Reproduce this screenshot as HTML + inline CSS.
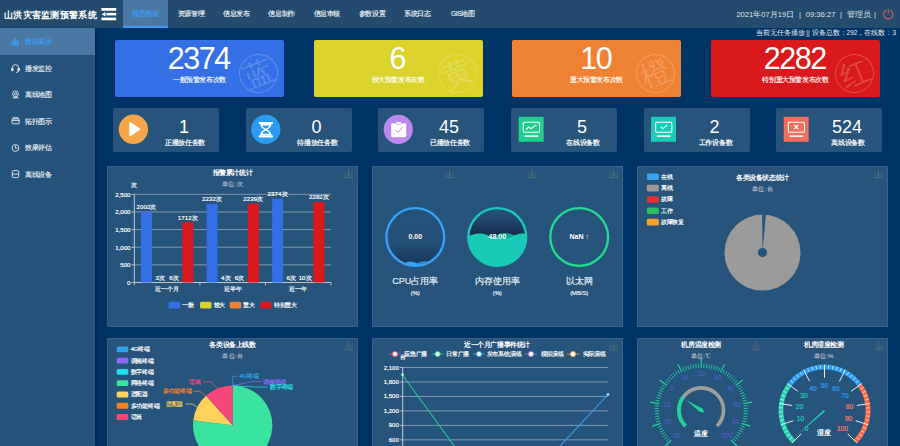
<!DOCTYPE html>
<html><head><meta charset="utf-8">
<style>
*{margin:0;padding:0;box-sizing:border-box}
html,body{width:900px;height:446px;overflow:hidden;background:#003465;font-family:"Liberation Sans",sans-serif;color:#fff}
.a{position:absolute;white-space:nowrap}
#hdr{position:absolute;left:0;top:0;width:900px;height:28px;background:#234b6d}
#side{position:absolute;left:0;top:28px;width:95px;height:418px;background:#265379;box-shadow:1px 0 2px rgba(0,10,30,.45)}
.tab{position:absolute;top:0;height:28px;width:45.3px;text-align:center;line-height:28px;font-size:6.6px;letter-spacing:-0.35px;color:#e8eef4;-webkit-text-stroke:0.15px currentColor}
.tab.on{background:#4b78a3;color:#3d9cf5;border-bottom:2px solid #3d9cf5;line-height:28px}
.mi{position:absolute;left:0;width:95px;height:27px}
.mi.on{background:#4b78a3}
.mi span{position:absolute;left:25px;top:0;line-height:27px;font-size:6.7px;letter-spacing:-0.3px;color:#e8eef4;-webkit-text-stroke:0.15px currentColor}
.mi.on span{color:#3d9cf5}
.card{position:absolute;top:40px;width:169px;height:57px;border-radius:2px}
.card .n{position:absolute;left:0;width:100%;top:1px;text-align:center;font-size:30.5px;line-height:34px;letter-spacing:-1.4px;text-indent:-1.4px}
.card .l{position:absolute;left:0;width:100%;top:36px;text-align:center;font-size:6.6px;letter-spacing:-0.4px;line-height:8px;-webkit-text-stroke:0.12px #fff}
.card .c{position:absolute;left:124px;top:13.5px;width:39px;height:39px;border-radius:50%;border:1px solid rgba(255,255,255,.22);color:rgba(255,255,255,.2);font-size:29px;font-weight:300;line-height:37px;text-align:center;transform:rotate(-22deg)}
.sc{position:absolute;top:108px;width:106px;height:44px;border-radius:2px;background:#27547b}
.sc .n{position:absolute;left:52px;width:38px;top:9px;text-align:center;font-size:18px;line-height:20px}
.sc .l{position:absolute;left:41px;width:62px;top:30.5px;text-align:center;font-size:6.6px;letter-spacing:-0.3px;line-height:8px;-webkit-text-stroke:0.2px #fff}
.pn{position:absolute;background:#27547b;border:1px solid rgba(255,255,255,.08)}
</style></head><body>
<div id="hdr">
  <div class="a" style="left:4px;top:7.6px;font-size:9.4px;font-weight:bold;line-height:14px;letter-spacing:0.3px">山洪灾害监测预警系统</div>
  <svg class="a" style="left:96px;top:3px" width="26" height="22" viewBox="96 3 26 22">
    <rect x="101.4" y="8" width="14.8" height="2.8" fill="#fff"/>
    <rect x="106.4" y="12.9" width="9.8" height="2.5" fill="#fff"/>
    <polygon points="101.6,14.15 105.5,11.9 105.5,16.4" fill="#fff"/>
    <rect x="101.4" y="17.6" width="14.8" height="2.7" fill="#fff"/>
  </svg>
  <div class="tab on" style="left:123px">视图数据</div>
  <div class="tab" style="left:168.3px">资源管理</div>
  <div class="tab" style="left:213.6px">信息发布</div>
  <div class="tab" style="left:258.9px">信息制作</div>
  <div class="tab" style="left:304.2px">信息审核</div>
  <div class="tab" style="left:349.5px">参数设置</div>
  <div class="tab" style="left:394.8px">系统日志</div>
  <div class="tab" style="left:440.1px">GIS地图</div>
  <div class="a" style="left:736.4px;top:9px;font-size:7.6px;line-height:12px;color:#dfe5ea">2021年07月19日</div><div class="a" style="left:799px;top:9px;font-size:7.6px;line-height:12px;color:#dfe5ea">|</div><div class="a" style="left:805.8px;top:9px;font-size:7.6px;line-height:12px;color:#dfe5ea">09:36:27</div><div class="a" style="left:840px;top:9px;font-size:7.6px;line-height:12px;color:#dfe5ea">|</div><div class="a" style="left:846.5px;top:9px;font-size:7.6px;line-height:12px;color:#dfe5ea">管理员</div><div class="a" style="left:874px;top:9px;font-size:7.6px;line-height:12px;color:#dfe5ea">|</div>
  <svg class="a" style="left:880px;top:6px" width="18" height="18" viewBox="880 6 18 18">
    <path d="M886.7,10.0 A4.7,4.7 0 1 0 889.9,10.0" fill="none" stroke="#c95a6c" stroke-width="1.2"/>
    <line x1="888.3" y1="9.2" x2="888.3" y2="13.6" stroke="#c95a6c" stroke-width="1.2"/>
  </svg>
</div>
<div class="a" style="right:4px;top:29px;font-size:6.5px;line-height:8px;color:#e8eef4">当前无任务播放 || 设备总数：292，在线数：3</div>

<div id="side">
    <div class="mi on" style="top:0"><span>数据展示</span></div>
  <div class="mi" style="top:26.5px"><span>播发监控</span></div>
  <div class="mi" style="top:53px"><span>离线地图</span></div>
  <div class="mi" style="top:79.5px"><span>拓扑图示</span></div>
  <div class="mi" style="top:106px"><span>效果评估</span></div>
  <div class="mi" style="top:132.5px"><span>离线设备</span></div>
<svg class="a" style="left:0;top:0" width="95" height="200" viewBox="0 28 95 200">
  <g fill="#3d9cf5"><rect x="11.8" y="41" width="1.6" height="4.3"/><rect x="14.2" y="38.3" width="1.7" height="7"/><rect x="16.6" y="39.8" width="1.7" height="5.5"/><rect x="11.5" y="45" width="7.2" height="0.6"/></g>
  <g fill="none" stroke="#e8eef4" stroke-width="0.9">
    <path d="M12.3,69.5 v-1.6 a3.2,3.2 0 0 1 6.4,0 v1.6"/>
    <rect x="11.6" y="68.2" width="1.5" height="2.6" rx="0.5" fill="#e8eef4"/>
    <rect x="17.9" y="68.2" width="1.5" height="2.6" rx="0.5" fill="#e8eef4"/>
    <path d="M18.6,70.8 q0,1.6 -2.6,1.6"/>
    <circle cx="15.5" cy="93.8" r="2.9"/>
    <circle cx="15.5" cy="93.8" r="1.1"/>
    <path d="M12.5,97.8 h6"/>
    <path d="M13.8,96.3 l1.7,1.5 l1.7,-1.5"/>
    <rect x="12" y="119" width="7.2" height="4.8" rx="0.6"/>
    <path d="M13,119 v-1.3 h5.2 v1.3"/>
    <line x1="12" y1="120.6" x2="19.2" y2="120.6"/>
    <circle cx="15.5" cy="148" r="3.4"/>
    <path d="M15.5,145.6 v2.6 h2.1"/>
    <rect x="12.3" y="170.6" width="6.4" height="7" rx="1.2"/>
    <line x1="12.3" y1="174.1" x2="18.7" y2="174.1"/>
  </g>
</svg>

</div>

<div class="card" style="left:115px;background:#346fe6"><div class="n">2374</div><div class="l">一般预警发布次数</div><div class="c">蓝</div></div>
<div class="card" style="left:313.5px;background:#dbd22c"><div class="n">6</div><div class="l">较大预警发布次数</div><div class="c">黄</div></div>
<div class="card" style="left:512px;background:#ef8133"><div class="n">10</div><div class="l">重大预警发布次数</div><div class="c">橙</div></div>
<div class="card" style="left:711px;background:#d9191c"><div class="n">2282</div><div class="l">特别重大预警发布次数</div><div class="c">红</div></div>

<div class="sc" style="left:113px"><div class="n">1</div><div class="l">正播放任务数</div></div>
<div class="sc" style="left:245.5px"><div class="n">0</div><div class="l">待播放任务数</div></div>
<div class="sc" style="left:378px"><div class="n">45</div><div class="l">已播放任务数</div></div>
<div class="sc" style="left:511px"><div class="n">5</div><div class="l">在线设备数</div></div>
<div class="sc" style="left:643.5px"><div class="n">2</div><div class="l">工作设备数</div></div>
<div class="sc" style="left:776px"><div class="n">524</div><div class="l">离线设备数</div></div>

<svg class="a" style="left:0;top:0" width="900" height="160" viewBox="0 0 900 160">
  <circle cx="133.4" cy="129.3" r="14.7" fill="#f6a54b"/>
  <path d="M129.3,123.3 Q129.3,121.6 130.8,122.5 L139.6,128.3 Q140.9,129.2 139.6,130.1 L130.8,135.9 Q129.3,136.8 129.3,135.1 Z" fill="#fff"/>
  <circle cx="265.8" cy="129.4" r="14.6" fill="#2b9cf2"/>
  <g fill="#fff">
    <rect x="258.7" y="121.9" width="14.2" height="2.1" rx="0.4"/>
    <rect x="258.7" y="135.3" width="14.2" height="2.1" rx="0.4"/>
    <path d="M260.2,124 L271.4,124 Q271.4,127.2 267.2,129.6 Q271.4,132 271.4,135.3 L260.2,135.3 Q260.2,132 264.4,129.6 Q260.2,127.2 260.2,124 Z M262.3,125.6 Q262.6,127.8 265.8,128.7 Q269,127.8 269.3,125.6 Z M262.2,133.8 L269.4,133.8 Q269,131.6 265.8,130.6 Q262.6,131.6 262.2,133.8 Z" fill-rule="evenodd"/>
  </g>
  <circle cx="398.3" cy="129.4" r="14.6" fill="#bb88ee"/>
  <rect x="391.2" y="123.2" width="15" height="14" rx="1.2" fill="#fff"/>
  <rect x="396" y="121.8" width="5.4" height="2.6" rx="0.8" fill="#fff" stroke="#bb88ee" stroke-width="0.6"/>
  <polyline points="395.3,129.8 398,132.4 402.6,127.4" fill="none" stroke="#bb88ee" stroke-width="1"/>
  <g>
    <rect x="518.7" y="116.8" width="25" height="25" fill="#1fcf8c"/>
    <rect x="651" y="116.8" width="25" height="25" fill="#1dc9b8"/>
    <rect x="783.7" y="116.8" width="25" height="25" fill="#f46d5a"/>
  </g>
  <g fill="none" stroke="#fff" stroke-width="1.1">
    <rect x="523.3" y="122.2" width="16.2" height="10" rx="1.3"/>
    <line x1="524.6" y1="136.1" x2="538.2" y2="136.1" stroke-width="1.5"/>
    <polyline points="526,129.7 528.6,127 531,128.6 536.4,124.6"/>
    <rect x="655.6" y="122.2" width="16.2" height="10" rx="1.3"/>
    <line x1="656.9" y1="136.1" x2="670.5" y2="136.1" stroke-width="1.5"/>
    <polyline points="660.8,126.7 662.9,128.8 667,124.8"/>
    <rect x="788.3" y="122.2" width="16.2" height="10" rx="1.3"/>
    <line x1="789.6" y1="136.1" x2="803.2" y2="136.1" stroke-width="1.5"/>
    <path d="M794.3,125 l4,4 M798.3,125 l-4,4" stroke-width="1.1"/>
  </g>
</svg>

<div class="pn" style="left:107px;top:166px;width:251px;height:161px"></div>
<div class="pn" style="left:372px;top:166px;width:251px;height:161px"></div>
<div class="pn" style="left:637px;top:166px;width:251px;height:161px"></div>
<div class="pn" style="left:107px;top:338px;width:251px;height:120px"></div>
<div class="pn" style="left:372px;top:338px;width:251px;height:120px"></div>
<div class="pn" style="left:637px;top:338px;width:251px;height:120px"></div>

<svg class="a" style="left:0;top:0" width="900" height="446" viewBox="0 0 900 446" font-family="Liberation Sans, sans-serif"><defs><linearGradient id="g_cpu" x1="0" y1="0" x2="0" y2="1"><stop offset="0" stop-color="#1a3a5e" stop-opacity="0.1"/><stop offset="0.55" stop-color="#1a3a5e" stop-opacity="0.15"/><stop offset="1" stop-color="#142f4f" stop-opacity="0.85"/></linearGradient><linearGradient id="g_mem" x1="0" y1="0" x2="0" y2="1"><stop offset="0" stop-color="#1d3f62" stop-opacity="0.05"/><stop offset="0.45" stop-color="#142b47" stop-opacity="0.95"/><stop offset="1" stop-color="#142b47" stop-opacity="1"/></linearGradient></defs><text x="232.50" y="172.20" font-size="7" fill="#fff" stroke="#fff" stroke-width="0.0" letter-spacing="-0.40" text-anchor="middle" dominant-baseline="central" font-weight="bold" >报警累计统计</text><text x="232.50" y="183.00" font-size="6.2" fill="#a9b5c2" stroke="#a9b5c2" stroke-width="0.18" letter-spacing="0.20" text-anchor="middle" dominant-baseline="central" font-weight="normal" >单位:次</text><g stroke="#6f7a70" stroke-width="0.8" fill="none" opacity="0.75" stroke-linecap="round"><line x1="348.5" y1="170" x2="348.5" y2="176"/><polyline points="345.2,172.8 348.5,176 351.8,172.8"/><polyline points="344.9,175.5 344.9,177.5 352.1,177.5 352.1,175.5"/></g><text x="134.30" y="184.80" font-size="6.1" fill="#fff" stroke="#fff" stroke-width="0.18" letter-spacing="0.10" text-anchor="middle" dominant-baseline="central" font-weight="normal" >次</text><line x1="134.3" y1="264.86" x2="331.0" y2="264.86" stroke="#8aa2b6" stroke-width="0.9"/><line x1="134.3" y1="247.22" x2="331.0" y2="247.22" stroke="#8aa2b6" stroke-width="0.9"/><line x1="134.3" y1="229.58" x2="331.0" y2="229.58" stroke="#8aa2b6" stroke-width="0.9"/><line x1="134.3" y1="211.94" x2="331.0" y2="211.94" stroke="#8aa2b6" stroke-width="0.9"/><line x1="134.3" y1="194.30" x2="331.0" y2="194.30" stroke="#8aa2b6" stroke-width="0.9"/><text x="130.50" y="282.50" font-size="6.1" fill="#fff" stroke="#fff" stroke-width="0.18" letter-spacing="0.00" text-anchor="end" dominant-baseline="central" font-weight="normal" >0</text><line x1="131.3" y1="282.50" x2="134.3" y2="282.50" stroke="#d0d8e0" stroke-width="0.8"/><text x="130.50" y="264.86" font-size="6.1" fill="#fff" stroke="#fff" stroke-width="0.18" letter-spacing="0.00" text-anchor="end" dominant-baseline="central" font-weight="normal" >500</text><line x1="131.3" y1="264.86" x2="134.3" y2="264.86" stroke="#d0d8e0" stroke-width="0.8"/><text x="130.50" y="247.22" font-size="6.1" fill="#fff" stroke="#fff" stroke-width="0.18" letter-spacing="0.00" text-anchor="end" dominant-baseline="central" font-weight="normal" >1,000</text><line x1="131.3" y1="247.22" x2="134.3" y2="247.22" stroke="#d0d8e0" stroke-width="0.8"/><text x="130.50" y="229.58" font-size="6.1" fill="#fff" stroke="#fff" stroke-width="0.18" letter-spacing="0.00" text-anchor="end" dominant-baseline="central" font-weight="normal" >1,500</text><line x1="131.3" y1="229.58" x2="134.3" y2="229.58" stroke="#d0d8e0" stroke-width="0.8"/><text x="130.50" y="211.94" font-size="6.1" fill="#fff" stroke="#fff" stroke-width="0.18" letter-spacing="0.00" text-anchor="end" dominant-baseline="central" font-weight="normal" >2,000</text><line x1="131.3" y1="211.94" x2="134.3" y2="211.94" stroke="#d0d8e0" stroke-width="0.8"/><text x="130.50" y="194.30" font-size="6.1" fill="#fff" stroke="#fff" stroke-width="0.18" letter-spacing="0.00" text-anchor="end" dominant-baseline="central" font-weight="normal" >2,500</text><line x1="131.3" y1="194.30" x2="134.3" y2="194.30" stroke="#d0d8e0" stroke-width="0.8"/><line x1="134.3" y1="194.3" x2="134.3" y2="282.5" stroke="#d0d8e0" stroke-width="0.9"/><line x1="134.3" y1="282.5" x2="331.0" y2="282.5" stroke="#d0d8e0" stroke-width="0.9"/><line x1="134.30" y1="282.5" x2="134.30" y2="285.5" stroke="#d0d8e0" stroke-width="0.8"/><line x1="199.87" y1="282.5" x2="199.87" y2="285.5" stroke="#d0d8e0" stroke-width="0.8"/><line x1="265.43" y1="282.5" x2="265.43" y2="285.5" stroke="#d0d8e0" stroke-width="0.8"/><line x1="331.00" y1="282.5" x2="331.00" y2="285.5" stroke="#d0d8e0" stroke-width="0.8"/><text x="167.08" y="289.00" font-size="5.9" fill="#fff" stroke="#fff" stroke-width="0.18" letter-spacing="-0.15" text-anchor="middle" dominant-baseline="central" font-weight="normal" >近一个月</text><rect x="141.00" y="211.87" width="11" height="70.63" fill="#346fe6"/><text x="146.50" y="206.87" font-size="6.1" fill="#fff" stroke="#fff" stroke-width="0.18" letter-spacing="0.10" text-anchor="middle" dominant-baseline="central" font-weight="normal" >2002次</text><rect x="154.77" y="282.39" width="11" height="0.11" fill="#dcd22c"/><text x="160.27" y="277.39" font-size="6.1" fill="#fff" stroke="#fff" stroke-width="0.18" letter-spacing="0.10" text-anchor="middle" dominant-baseline="central" font-weight="normal" >3次</text><rect x="168.54" y="282.29" width="11" height="0.21" fill="#ef8133"/><text x="174.04" y="277.29" font-size="6.1" fill="#fff" stroke="#fff" stroke-width="0.18" letter-spacing="0.10" text-anchor="middle" dominant-baseline="central" font-weight="normal" >6次</text><rect x="182.31" y="222.10" width="11" height="60.40" fill="#d9191c"/><text x="187.81" y="217.10" font-size="6.1" fill="#fff" stroke="#fff" stroke-width="0.18" letter-spacing="0.10" text-anchor="middle" dominant-baseline="central" font-weight="normal" >1712次</text><text x="232.65" y="289.00" font-size="5.9" fill="#fff" stroke="#fff" stroke-width="0.18" letter-spacing="-0.15" text-anchor="middle" dominant-baseline="central" font-weight="normal" >近半年</text><rect x="206.57" y="203.76" width="11" height="78.74" fill="#346fe6"/><text x="212.07" y="198.76" font-size="6.1" fill="#fff" stroke="#fff" stroke-width="0.18" letter-spacing="0.10" text-anchor="middle" dominant-baseline="central" font-weight="normal" >2232次</text><rect x="220.34" y="282.36" width="11" height="0.14" fill="#dcd22c"/><text x="225.84" y="277.36" font-size="6.1" fill="#fff" stroke="#fff" stroke-width="0.18" letter-spacing="0.10" text-anchor="middle" dominant-baseline="central" font-weight="normal" >4次</text><rect x="234.11" y="282.29" width="11" height="0.21" fill="#ef8133"/><text x="239.61" y="277.29" font-size="6.1" fill="#fff" stroke="#fff" stroke-width="0.18" letter-spacing="0.10" text-anchor="middle" dominant-baseline="central" font-weight="normal" >6次</text><rect x="247.88" y="203.51" width="11" height="78.99" fill="#d9191c"/><text x="253.38" y="198.51" font-size="6.1" fill="#fff" stroke="#fff" stroke-width="0.18" letter-spacing="0.10" text-anchor="middle" dominant-baseline="central" font-weight="normal" >2239次</text><text x="298.22" y="289.00" font-size="5.9" fill="#fff" stroke="#fff" stroke-width="0.18" letter-spacing="-0.15" text-anchor="middle" dominant-baseline="central" font-weight="normal" >近一年</text><rect x="272.13" y="198.75" width="11" height="83.75" fill="#346fe6"/><text x="277.63" y="193.75" font-size="6.1" fill="#fff" stroke="#fff" stroke-width="0.18" letter-spacing="0.10" text-anchor="middle" dominant-baseline="central" font-weight="normal" >2374次</text><rect x="285.90" y="282.29" width="11" height="0.21" fill="#dcd22c"/><text x="291.40" y="277.29" font-size="6.1" fill="#fff" stroke="#fff" stroke-width="0.18" letter-spacing="0.10" text-anchor="middle" dominant-baseline="central" font-weight="normal" >6次</text><rect x="299.67" y="282.15" width="11" height="0.35" fill="#ef8133"/><text x="305.17" y="277.15" font-size="6.1" fill="#fff" stroke="#fff" stroke-width="0.18" letter-spacing="0.10" text-anchor="middle" dominant-baseline="central" font-weight="normal" >10次</text><rect x="313.44" y="201.99" width="11" height="80.51" fill="#d9191c"/><text x="318.94" y="196.99" font-size="6.1" fill="#fff" stroke="#fff" stroke-width="0.18" letter-spacing="0.10" text-anchor="middle" dominant-baseline="central" font-weight="normal" >2282次</text><rect x="168.6" y="301.8" width="11.5" height="6.6" rx="1.5" fill="#346fe6"/><text x="182.10" y="305.10" font-size="5.9" fill="#fff" stroke="#fff" stroke-width="0.18" letter-spacing="-0.15" text-anchor="start" dominant-baseline="central" font-weight="normal" >一般</text><rect x="200" y="301.8" width="11.5" height="6.6" rx="1.5" fill="#dcd22c"/><text x="213.50" y="305.10" font-size="5.9" fill="#fff" stroke="#fff" stroke-width="0.18" letter-spacing="-0.15" text-anchor="start" dominant-baseline="central" font-weight="normal" >较大</text><rect x="229.7" y="301.8" width="11.5" height="6.6" rx="1.5" fill="#ef8133"/><text x="243.20" y="305.10" font-size="5.9" fill="#fff" stroke="#fff" stroke-width="0.18" letter-spacing="-0.15" text-anchor="start" dominant-baseline="central" font-weight="normal" >重大</text><rect x="260.2" y="301.8" width="11.5" height="6.6" rx="1.5" fill="#d9191c"/><text x="273.70" y="305.10" font-size="5.9" fill="#fff" stroke="#fff" stroke-width="0.18" letter-spacing="-0.15" text-anchor="start" dominant-baseline="central" font-weight="normal" >特别重大</text><g stroke="#6f7a70" stroke-width="0.8" fill="none" opacity="0.75" stroke-linecap="round"><line x1="449.6" y1="170" x2="449.6" y2="176"/><polyline points="446.3,172.8 449.6,176 452.90000000000003,172.8"/><polyline points="446.0,175.5 446.0,177.5 453.20000000000005,177.5 453.20000000000005,175.5"/></g><circle cx="415.3" cy="237" r="28.2" fill="url(#g_cpu)"/><clipPath id="cp415"><circle cx="415.3" cy="237" r="28.2"/></clipPath><g clip-path="url(#cp415)"><path d="M385.30,264.41 L385.80,264.27 L386.30,264.12 L386.80,263.96 L387.30,263.78 L387.80,263.59 L388.30,263.40 L388.80,263.20 L389.30,263.00 L389.80,262.80 L390.30,262.60 L390.80,262.41 L391.30,262.22 L391.80,262.04 L392.30,261.88 L392.80,261.73 L393.30,261.59 L393.80,261.48 L394.30,261.38 L394.80,261.30 L395.30,261.25 L395.80,261.21 L396.30,261.20 L396.80,261.21 L397.30,261.25 L397.80,261.30 L398.30,261.38 L398.80,261.48 L399.30,261.59 L399.80,261.73 L400.30,261.88 L400.80,262.04 L401.30,262.22 L401.80,262.41 L402.30,262.60 L402.80,262.80 L403.30,263.00 L403.80,263.20 L404.30,263.40 L404.80,263.59 L405.30,263.78 L405.80,263.96 L406.30,264.12 L406.80,264.27 L407.30,264.41 L407.80,264.52 L408.30,264.62 L408.80,264.70 L409.30,264.75 L409.80,264.79 L410.30,264.80 L410.80,264.79 L411.30,264.75 L411.80,264.70 L412.30,264.62 L412.80,264.52 L413.30,264.41 L413.80,264.27 L414.30,264.12 L414.80,263.96 L415.30,263.78 L415.80,263.59 L416.30,263.40 L416.80,263.20 L417.30,263.00 L417.80,262.80 L418.30,262.60 L418.80,262.41 L419.30,262.22 L419.80,262.04 L420.30,261.88 L420.80,261.73 L421.30,261.59 L421.80,261.48 L422.30,261.38 L422.80,261.30 L423.30,261.25 L423.80,261.21 L424.30,261.20 L424.80,261.21 L425.30,261.25 L425.80,261.30 L426.30,261.38 L426.80,261.48 L427.30,261.59 L427.80,261.73 L428.30,261.88 L428.80,262.04 L429.30,262.22 L429.80,262.41 L430.30,262.60 L430.80,262.80 L431.30,263.00 L431.80,263.20 L432.30,263.40 L432.80,263.59 L433.30,263.78 L433.80,263.96 L434.30,264.12 L434.80,264.27 L435.30,264.41 L435.80,264.52 L436.30,264.62 L436.80,264.70 L437.30,264.75 L437.80,264.79 L438.30,264.80 L438.80,264.79 L439.30,264.75 L439.80,264.70 L440.30,264.62 L440.80,264.52 L441.30,264.41 L441.80,264.27 L442.30,264.12 L442.80,263.96 L443.30,263.78 L443.80,263.59 L444.30,263.40 L444.80,263.20 L445.30,263.00 L445.3,269 L385.3,269 Z" fill="#2a86cc"/><path d="M385.30,262.04 L385.80,262.19 L386.30,262.35 L386.80,262.54 L387.30,262.73 L387.80,262.94 L388.30,263.15 L388.80,263.38 L389.30,263.60 L389.80,263.82 L390.30,264.05 L390.80,264.26 L391.30,264.47 L391.80,264.66 L392.30,264.85 L392.80,265.01 L393.30,265.16 L393.80,265.29 L394.30,265.40 L394.80,265.49 L395.30,265.55 L395.80,265.59 L396.30,265.60 L396.80,265.59 L397.30,265.55 L397.80,265.49 L398.30,265.40 L398.80,265.29 L399.30,265.16 L399.80,265.01 L400.30,264.85 L400.80,264.66 L401.30,264.47 L401.80,264.26 L402.30,264.05 L402.80,263.82 L403.30,263.60 L403.80,263.38 L404.30,263.15 L404.80,262.94 L405.30,262.73 L405.80,262.54 L406.30,262.35 L406.80,262.19 L407.30,262.04 L407.80,261.91 L408.30,261.80 L408.80,261.71 L409.30,261.65 L409.80,261.61 L410.30,261.60 L410.80,261.61 L411.30,261.65 L411.80,261.71 L412.30,261.80 L412.80,261.91 L413.30,262.04 L413.80,262.19 L414.30,262.35 L414.80,262.54 L415.30,262.73 L415.80,262.94 L416.30,263.15 L416.80,263.38 L417.30,263.60 L417.80,263.82 L418.30,264.05 L418.80,264.26 L419.30,264.47 L419.80,264.66 L420.30,264.85 L420.80,265.01 L421.30,265.16 L421.80,265.29 L422.30,265.40 L422.80,265.49 L423.30,265.55 L423.80,265.59 L424.30,265.60 L424.80,265.59 L425.30,265.55 L425.80,265.49 L426.30,265.40 L426.80,265.29 L427.30,265.16 L427.80,265.01 L428.30,264.85 L428.80,264.66 L429.30,264.47 L429.80,264.26 L430.30,264.05 L430.80,263.82 L431.30,263.60 L431.80,263.38 L432.30,263.15 L432.80,262.94 L433.30,262.73 L433.80,262.54 L434.30,262.35 L434.80,262.19 L435.30,262.04 L435.80,261.91 L436.30,261.80 L436.80,261.71 L437.30,261.65 L437.80,261.61 L438.30,261.60 L438.80,261.61 L439.30,261.65 L439.80,261.71 L440.30,261.80 L440.80,261.91 L441.30,262.04 L441.80,262.19 L442.30,262.35 L442.80,262.54 L443.30,262.73 L443.80,262.94 L444.30,263.15 L444.80,263.38 L445.30,263.60 L445.3,269 L385.3,269 Z" fill="#3aa2f0"/></g><circle cx="415.3" cy="237" r="28.9" fill="none" stroke="#37a2f5" stroke-width="2.3"/><text x="415.30" y="236.60" font-size="7" fill="#fff" stroke="#fff" stroke-width="0.0" letter-spacing="0.00" text-anchor="middle" dominant-baseline="central" font-weight="bold" >0.00</text><text x="415.30" y="280.60" font-size="9" fill="#e8eef4" stroke="#e8eef4" stroke-width="0.18" letter-spacing="0.00" text-anchor="middle" dominant-baseline="central" font-weight="normal" >CPU占用率</text><text x="415.30" y="292.60" font-size="5.8" fill="#e8eef4" stroke="#e8eef4" stroke-width="0.18" letter-spacing="0.00" text-anchor="middle" dominant-baseline="central" font-weight="normal" >(%)</text><g stroke="#6f7a70" stroke-width="0.8" fill="none" opacity="0.75" stroke-linecap="round"><line x1="531.6" y1="170" x2="531.6" y2="176"/><polyline points="528.3000000000001,172.8 531.6,176 534.9,172.8"/><polyline points="528.0,175.5 528.0,177.5 535.2,177.5 535.2,175.5"/></g><circle cx="497.3" cy="237" r="28.2" fill="url(#g_mem)"/><clipPath id="cp497"><circle cx="497.3" cy="237" r="28.2"/></clipPath><g clip-path="url(#cp497)"><path d="M467.30,234.02 L467.80,234.19 L468.30,234.37 L468.80,234.57 L469.30,234.77 L469.80,234.98 L470.30,235.19 L470.80,235.41 L471.30,235.64 L471.80,235.87 L472.30,236.10 L472.80,236.33 L473.30,236.56 L473.80,236.78 L474.30,237.01 L474.80,237.23 L475.30,237.44 L475.80,237.65 L476.30,237.85 L476.80,238.05 L477.30,238.23 L477.80,238.40 L478.30,238.56 L478.80,238.71 L479.30,238.85 L479.80,238.97 L480.30,239.08 L480.80,239.17 L481.30,239.25 L481.80,239.31 L482.30,239.36 L482.80,239.39 L483.30,239.40 L483.80,239.40 L484.30,239.38 L484.80,239.34 L485.30,239.29 L485.80,239.22 L486.30,239.14 L486.80,239.04 L487.30,238.92 L487.80,238.79 L488.30,238.65 L488.80,238.50 L489.30,238.33 L489.80,238.16 L490.30,237.97 L490.80,237.77 L491.30,237.57 L491.80,237.36 L492.30,237.14 L492.80,236.92 L493.30,236.69 L493.80,236.46 L494.30,236.23 L494.80,236.00 L495.30,235.78 L495.80,235.55 L496.30,235.33 L496.80,235.11 L497.30,234.89 L497.80,234.69 L498.30,234.49 L498.80,234.30 L499.30,234.12 L499.80,233.95 L500.30,233.79 L500.80,233.65 L501.30,233.51 L501.80,233.40 L502.30,233.29 L502.80,233.20 L503.30,233.13 L503.80,233.07 L504.30,233.03 L504.80,233.01 L505.30,233.00 L505.80,233.01 L506.30,233.03 L506.80,233.07 L507.30,233.13 L507.80,233.20 L508.30,233.29 L508.80,233.40 L509.30,233.51 L509.80,233.65 L510.30,233.79 L510.80,233.95 L511.30,234.12 L511.80,234.30 L512.30,234.49 L512.80,234.69 L513.30,234.89 L513.80,235.11 L514.30,235.33 L514.80,235.55 L515.30,235.78 L515.80,236.00 L516.30,236.23 L516.80,236.46 L517.30,236.69 L517.80,236.92 L518.30,237.14 L518.80,237.36 L519.30,237.57 L519.80,237.77 L520.30,237.97 L520.80,238.16 L521.30,238.33 L521.80,238.50 L522.30,238.65 L522.80,238.79 L523.30,238.92 L523.80,239.04 L524.30,239.14 L524.80,239.22 L525.30,239.29 L525.80,239.34 L526.30,239.38 L526.80,239.40 L527.30,239.40 L527.3,269 L467.3,269 Z" fill="#10a597"/><path d="M467.30,236.87 L467.80,236.66 L468.30,236.46 L468.80,236.25 L469.30,236.04 L469.80,235.83 L470.30,235.63 L470.80,235.43 L471.30,235.23 L471.80,235.04 L472.30,234.86 L472.80,234.68 L473.30,234.51 L473.80,234.35 L474.30,234.20 L474.80,234.06 L475.30,233.94 L475.80,233.82 L476.30,233.72 L476.80,233.63 L477.30,233.56 L477.80,233.50 L478.30,233.45 L478.80,233.42 L479.30,233.40 L479.80,233.40 L480.30,233.41 L480.80,233.44 L481.30,233.49 L481.80,233.54 L482.30,233.62 L482.80,233.70 L483.30,233.80 L483.80,233.91 L484.30,234.04 L484.80,234.17 L485.30,234.32 L485.80,234.48 L486.30,234.64 L486.80,234.82 L487.30,235.00 L487.80,235.19 L488.30,235.39 L488.80,235.59 L489.30,235.79 L489.80,236.00 L490.30,236.21 L490.80,236.41 L491.30,236.62 L491.80,236.83 L492.30,237.03 L492.80,237.23 L493.30,237.43 L493.80,237.62 L494.30,237.80 L494.80,237.97 L495.30,238.14 L495.80,238.29 L496.30,238.44 L496.80,238.58 L497.30,238.70 L497.80,238.81 L498.30,238.91 L498.80,238.99 L499.30,239.06 L499.80,239.12 L500.30,239.16 L500.80,239.19 L501.30,239.20 L501.80,239.20 L502.30,239.18 L502.80,239.15 L503.30,239.10 L503.80,239.04 L504.30,238.96 L504.80,238.87 L505.30,238.77 L505.80,238.65 L506.30,238.52 L506.80,238.38 L507.30,238.23 L507.80,238.07 L508.30,237.90 L508.80,237.73 L509.30,237.54 L509.80,237.35 L510.30,237.15 L510.80,236.95 L511.30,236.75 L511.80,236.54 L512.30,236.33 L512.80,236.12 L513.30,235.92 L513.80,235.71 L514.30,235.51 L514.80,235.31 L515.30,235.12 L515.80,234.93 L516.30,234.75 L516.80,234.58 L517.30,234.41 L517.80,234.26 L518.30,234.12 L518.80,233.99 L519.30,233.87 L519.80,233.76 L520.30,233.67 L520.80,233.59 L521.30,233.52 L521.80,233.47 L522.30,233.43 L522.80,233.41 L523.30,233.40 L523.80,233.41 L524.30,233.43 L524.80,233.47 L525.30,233.52 L525.80,233.59 L526.30,233.67 L526.80,233.76 L527.30,233.87 L527.3,269 L467.3,269 Z" fill="#19cab8"/></g><circle cx="497.3" cy="237" r="28.9" fill="none" stroke="#1ccab8" stroke-width="2.3"/><text x="497.30" y="236.60" font-size="7" fill="#fff" stroke="#fff" stroke-width="0.0" letter-spacing="0.00" text-anchor="middle" dominant-baseline="central" font-weight="bold" >48.00</text><text x="497.30" y="280.60" font-size="9" fill="#e8eef4" stroke="#e8eef4" stroke-width="0.18" letter-spacing="0.00" text-anchor="middle" dominant-baseline="central" font-weight="normal" >内存使用率</text><text x="497.30" y="292.60" font-size="5.8" fill="#e8eef4" stroke="#e8eef4" stroke-width="0.18" letter-spacing="0.00" text-anchor="middle" dominant-baseline="central" font-weight="normal" >(%)</text><g stroke="#6f7a70" stroke-width="0.8" fill="none" opacity="0.75" stroke-linecap="round"><line x1="613.5" y1="170" x2="613.5" y2="176"/><polyline points="610.2,172.8 613.5,176 616.8,172.8"/><polyline points="609.9,175.5 609.9,177.5 617.1,177.5 617.1,175.5"/></g><circle cx="579.2" cy="237" r="28.9" fill="none" stroke="#22dc90" stroke-width="2.3"/><text x="579.20" y="236.60" font-size="7" fill="#fff" stroke="#fff" stroke-width="0.0" letter-spacing="0.00" text-anchor="middle" dominant-baseline="central" font-weight="bold" >NaN ↑</text><text x="579.20" y="280.60" font-size="9" fill="#e8eef4" stroke="#e8eef4" stroke-width="0.18" letter-spacing="0.00" text-anchor="middle" dominant-baseline="central" font-weight="normal" >以太网</text><text x="579.20" y="292.60" font-size="5.8" fill="#e8eef4" stroke="#e8eef4" stroke-width="0.18" letter-spacing="0.00" text-anchor="middle" dominant-baseline="central" font-weight="normal" >(MB/S)</text><rect x="646.9" y="173.50" width="12" height="6.6" rx="1.5" fill="#3ba2f0"/><text x="660.80" y="176.80" font-size="5.9" fill="#fff" stroke="#fff" stroke-width="0.18" letter-spacing="-0.15" text-anchor="start" dominant-baseline="central" font-weight="normal" >在线</text><rect x="646.9" y="184.83" width="12" height="6.6" rx="1.5" fill="#9b9b9b"/><text x="660.80" y="188.13" font-size="5.9" fill="#fff" stroke="#fff" stroke-width="0.18" letter-spacing="-0.15" text-anchor="start" dominant-baseline="central" font-weight="normal" >离线</text><rect x="646.9" y="196.16" width="12" height="6.6" rx="1.5" fill="#e8302f"/><text x="660.80" y="199.46" font-size="5.9" fill="#fff" stroke="#fff" stroke-width="0.18" letter-spacing="-0.15" text-anchor="start" dominant-baseline="central" font-weight="normal" >故障</text><rect x="646.9" y="207.49" width="12" height="6.6" rx="1.5" fill="#2fbb66"/><text x="660.80" y="210.79" font-size="5.9" fill="#fff" stroke="#fff" stroke-width="0.18" letter-spacing="-0.15" text-anchor="start" dominant-baseline="central" font-weight="normal" >工作</text><rect x="646.9" y="218.82" width="12" height="6.6" rx="1.5" fill="#f7a22a"/><text x="660.80" y="222.12" font-size="5.9" fill="#fff" stroke="#fff" stroke-width="0.18" letter-spacing="-0.15" text-anchor="start" dominant-baseline="central" font-weight="normal" >故障恢复</text><text x="762.50" y="177.00" font-size="7" fill="#fff" stroke="#fff" stroke-width="0.0" letter-spacing="-0.40" text-anchor="middle" dominant-baseline="central" font-weight="bold" >各类设备状态统计</text><text x="762.50" y="188.00" font-size="6.2" fill="#a9b5c2" stroke="#a9b5c2" stroke-width="0.18" letter-spacing="0.20" text-anchor="middle" dominant-baseline="central" font-weight="normal" >单位:台</text><g stroke="#6f7a70" stroke-width="0.8" fill="none" opacity="0.75" stroke-linecap="round"><line x1="878.5" y1="170" x2="878.5" y2="176"/><polyline points="875.2,172.8 878.5,176 881.8,172.8"/><polyline points="874.9,175.5 874.9,177.5 882.1,177.5 882.1,175.5"/></g><circle cx="762.5" cy="252.6" r="38" fill="#9b9b9b"/><path d="M762.5,252.6 L762.15,212.70 L765.98,212.85 Z" fill="#27547b"/><circle cx="762.5" cy="252.6" r="4.6" fill="#27547b"/><rect x="116.7" y="346.50" width="11.6" height="5.8" rx="1.5" fill="#33a3e6"/><text x="130.70" y="349.40" font-size="5.9" fill="#fff" stroke="#fff" stroke-width="0.18" letter-spacing="-0.20" text-anchor="start" dominant-baseline="central" font-weight="normal" >4G终端</text><rect x="116.7" y="357.77" width="11.6" height="5.8" rx="1.5" fill="#8b6cf6"/><text x="130.70" y="360.67" font-size="5.9" fill="#fff" stroke="#fff" stroke-width="0.18" letter-spacing="-0.20" text-anchor="start" dominant-baseline="central" font-weight="normal" >调频终端</text><rect x="116.7" y="369.04" width="11.6" height="5.8" rx="1.5" fill="#22e0e8"/><text x="130.70" y="371.94" font-size="5.9" fill="#fff" stroke="#fff" stroke-width="0.18" letter-spacing="-0.20" text-anchor="start" dominant-baseline="central" font-weight="normal" >数字终端</text><rect x="116.7" y="380.31" width="11.6" height="5.8" rx="1.5" fill="#3be3a0"/><text x="130.70" y="383.21" font-size="5.9" fill="#fff" stroke="#fff" stroke-width="0.18" letter-spacing="-0.20" text-anchor="start" dominant-baseline="central" font-weight="normal" >网络终端</text><rect x="116.7" y="391.58" width="11.6" height="5.8" rx="1.5" fill="#ffd35a"/><text x="130.70" y="394.48" font-size="5.9" fill="#fff" stroke="#fff" stroke-width="0.18" letter-spacing="-0.20" text-anchor="start" dominant-baseline="central" font-weight="normal" >适配器</text><rect x="116.7" y="402.85" width="11.6" height="5.8" rx="1.5" fill="#f5821f"/><text x="130.70" y="405.75" font-size="5.9" fill="#fff" stroke="#fff" stroke-width="0.18" letter-spacing="-0.20" text-anchor="start" dominant-baseline="central" font-weight="normal" >多功能终端</text><rect x="116.7" y="414.12" width="11.6" height="5.8" rx="1.5" fill="#f5477a"/><text x="130.70" y="417.02" font-size="5.9" fill="#fff" stroke="#fff" stroke-width="0.18" letter-spacing="-0.20" text-anchor="start" dominant-baseline="central" font-weight="normal" >话筒</text><text x="232.60" y="344.20" font-size="7" fill="#fff" stroke="#fff" stroke-width="0.0" letter-spacing="-0.40" text-anchor="middle" dominant-baseline="central" font-weight="bold" >各类设备上线数</text><text x="232.60" y="355.50" font-size="6.2" fill="#a9b5c2" stroke="#a9b5c2" stroke-width="0.18" letter-spacing="0.20" text-anchor="middle" dominant-baseline="central" font-weight="normal" >单位:台</text><g stroke="#6f7a70" stroke-width="0.8" fill="none" opacity="0.75" stroke-linecap="round"><line x1="348.5" y1="342.5" x2="348.5" y2="348.5"/><polyline points="345.2,345.3 348.5,348.5 351.8,345.3"/><polyline points="344.9,348.0 344.9,350.0 352.1,350.0 352.1,348.0"/></g><path d="M232.7,425.2 L232.70,385.50 A39.7,39.7 0 1 1 193.30,420.36 Z" fill="#3be3a0"/><path d="M232.7,425.2 L193.30,420.36 A39.7,39.7 0 0 1 205.98,395.84 Z" fill="#ffd35a"/><path d="M232.7,425.2 L205.98,395.84 A39.7,39.7 0 0 1 232.70,385.50 Z" fill="#f5477a"/><polyline points="203.4,381.9 211,381.9 217.5,388.5" fill="none" stroke="#f5477a" stroke-width="0.7"/><text x="195.00" y="381.90" font-size="5.9" fill="#f5477a" stroke="#f5477a" stroke-width="0.18" letter-spacing="-0.25" text-anchor="middle" dominant-baseline="central" font-weight="normal" >话筒</text><polyline points="193.2,391.3 200,391.3 206,396" fill="none" stroke="#f5821f" stroke-width="0.7"/><text x="177.00" y="391.30" font-size="5.9" fill="#f5821f" stroke="#f5821f" stroke-width="0.18" letter-spacing="-0.25" text-anchor="middle" dominant-baseline="central" font-weight="normal" >多功能终端</text><polyline points="185.6,404 192.4,404 197,407" fill="none" stroke="#ffd35a" stroke-width="0.7"/><text x="174.50" y="404.00" font-size="5.9" fill="#ffd35a" stroke="#ffd35a" stroke-width="0.18" letter-spacing="-0.25" text-anchor="middle" dominant-baseline="central" font-weight="normal" >适配器</text><polyline points="232.7,385.5 232.7,376.3 237.5,376.3" fill="none" stroke="#33a3e6" stroke-width="0.7"/><text x="239.50" y="376.30" font-size="5.9" fill="#33a3e6" stroke="#33a3e6" stroke-width="0.18" letter-spacing="-0.25" text-anchor="start" dominant-baseline="central" font-weight="normal" >4G终端</text><polyline points="233,385.5 252,381.6 261,381.6" fill="none" stroke="#8b6cf6" stroke-width="0.7"/><text x="263.00" y="381.60" font-size="5.9" fill="#8b6cf6" stroke="#8b6cf6" stroke-width="0.18" letter-spacing="-0.25" text-anchor="start" dominant-baseline="central" font-weight="normal" >调频终端</text><polyline points="233.2,385.6 254,387 268,387" fill="none" stroke="#22e0e8" stroke-width="0.7"/><text x="270.00" y="387.00" font-size="5.9" fill="#22e0e8" stroke="#22e0e8" stroke-width="0.18" letter-spacing="-0.25" text-anchor="start" dominant-baseline="central" font-weight="normal" >数字终端</text><text x="497.00" y="344.20" font-size="7" fill="#fff" stroke="#fff" stroke-width="0.0" letter-spacing="-0.40" text-anchor="middle" dominant-baseline="central" font-weight="bold" >近一个月广播事件统计</text><g stroke="#6f7a70" stroke-width="0.8" fill="none" opacity="0.75" stroke-linecap="round"><line x1="613.5" y1="342.5" x2="613.5" y2="348.5"/><polyline points="610.2,345.3 613.5,348.5 616.8,345.3"/><polyline points="609.9,348.0 609.9,350.0 617.1,350.0 617.1,348.0"/></g><line x1="389" y1="354" x2="401" y2="354" stroke="#f5477a" stroke-width="0.9"/><circle cx="395" cy="354" r="2.6" fill="#fff" stroke="#f5477a" stroke-width="1"/><text x="404.00" y="354.00" font-size="5.9" fill="#fff" stroke="#fff" stroke-width="0.18" letter-spacing="-0.20" text-anchor="start" dominant-baseline="central" font-weight="normal" >应急广播</text><line x1="431.6" y1="354" x2="443.6" y2="354" stroke="#22c88a" stroke-width="0.9"/><circle cx="437.6" cy="354" r="2.6" fill="#fff" stroke="#22c88a" stroke-width="1"/><text x="446.00" y="354.00" font-size="5.9" fill="#fff" stroke="#fff" stroke-width="0.18" letter-spacing="-0.20" text-anchor="start" dominant-baseline="central" font-weight="normal" >日常广播</text><line x1="473" y1="354" x2="485" y2="354" stroke="#3aa0e8" stroke-width="0.9"/><circle cx="479" cy="354" r="2.6" fill="#fff" stroke="#3aa0e8" stroke-width="1"/><text x="486.50" y="354.00" font-size="5.9" fill="#fff" stroke="#fff" stroke-width="0.18" letter-spacing="-0.20" text-anchor="start" dominant-baseline="central" font-weight="normal" >发布系统演练</text><line x1="525" y1="354" x2="537" y2="354" stroke="#9a7cf0" stroke-width="0.9"/><circle cx="531" cy="354" r="2.6" fill="#fff" stroke="#9a7cf0" stroke-width="1"/><text x="540.50" y="354.00" font-size="5.9" fill="#fff" stroke="#fff" stroke-width="0.18" letter-spacing="-0.20" text-anchor="start" dominant-baseline="central" font-weight="normal" >模拟演练</text><line x1="567" y1="354" x2="579" y2="354" stroke="#e8a040" stroke-width="0.9"/><circle cx="573" cy="354" r="2.6" fill="#fff" stroke="#e8a040" stroke-width="1"/><text x="582.50" y="354.00" font-size="5.9" fill="#fff" stroke="#fff" stroke-width="0.18" letter-spacing="-0.20" text-anchor="start" dominant-baseline="central" font-weight="normal" >实际演练</text><text x="402.90" y="357.40" font-size="6" fill="#fff" stroke="#fff" stroke-width="0.18" letter-spacing="0.00" text-anchor="middle" dominant-baseline="central" font-weight="normal" >台</text><line x1="402.7" y1="367.50" x2="608" y2="367.50" stroke="#8aa2b6" stroke-width="0.9"/><line x1="399.7" y1="367.50" x2="402.7" y2="367.50" stroke="#d0d8e0" stroke-width="0.8"/><text x="398.80" y="367.50" font-size="6" fill="#fff" stroke="#fff" stroke-width="0.18" letter-spacing="0.00" text-anchor="end" dominant-baseline="central" font-weight="normal" >2,100</text><line x1="402.7" y1="381.97" x2="608" y2="381.97" stroke="#8aa2b6" stroke-width="0.9"/><line x1="399.7" y1="381.97" x2="402.7" y2="381.97" stroke="#d0d8e0" stroke-width="0.8"/><text x="398.80" y="381.97" font-size="6" fill="#fff" stroke="#fff" stroke-width="0.18" letter-spacing="0.00" text-anchor="end" dominant-baseline="central" font-weight="normal" >1,800</text><line x1="402.7" y1="396.44" x2="608" y2="396.44" stroke="#8aa2b6" stroke-width="0.9"/><line x1="399.7" y1="396.44" x2="402.7" y2="396.44" stroke="#d0d8e0" stroke-width="0.8"/><text x="398.80" y="396.44" font-size="6" fill="#fff" stroke="#fff" stroke-width="0.18" letter-spacing="0.00" text-anchor="end" dominant-baseline="central" font-weight="normal" >1,500</text><line x1="402.7" y1="410.91" x2="608" y2="410.91" stroke="#8aa2b6" stroke-width="0.9"/><line x1="399.7" y1="410.91" x2="402.7" y2="410.91" stroke="#d0d8e0" stroke-width="0.8"/><text x="398.80" y="410.91" font-size="6" fill="#fff" stroke="#fff" stroke-width="0.18" letter-spacing="0.00" text-anchor="end" dominant-baseline="central" font-weight="normal" >1,200</text><line x1="402.7" y1="425.38" x2="608" y2="425.38" stroke="#8aa2b6" stroke-width="0.9"/><line x1="399.7" y1="425.38" x2="402.7" y2="425.38" stroke="#d0d8e0" stroke-width="0.8"/><text x="398.80" y="425.38" font-size="6" fill="#fff" stroke="#fff" stroke-width="0.18" letter-spacing="0.00" text-anchor="end" dominant-baseline="central" font-weight="normal" >900</text><line x1="402.7" y1="439.85" x2="608" y2="439.85" stroke="#8aa2b6" stroke-width="0.9"/><line x1="399.7" y1="439.85" x2="402.7" y2="439.85" stroke="#d0d8e0" stroke-width="0.8"/><text x="398.80" y="439.85" font-size="6" fill="#fff" stroke="#fff" stroke-width="0.18" letter-spacing="0.00" text-anchor="end" dominant-baseline="central" font-weight="normal" >600</text><line x1="402.7" y1="454.32" x2="608" y2="454.32" stroke="#8aa2b6" stroke-width="0.9"/><line x1="399.7" y1="454.32" x2="402.7" y2="454.32" stroke="#d0d8e0" stroke-width="0.8"/><text x="398.80" y="454.32" font-size="6" fill="#fff" stroke="#fff" stroke-width="0.18" letter-spacing="0.00" text-anchor="end" dominant-baseline="central" font-weight="normal" >300</text><line x1="402.7" y1="367.5" x2="402.7" y2="446" stroke="#d0d8e0" stroke-width="0.9"/><polyline points="402.3,374.8 479.1,480" fill="none" stroke="#22c88a" stroke-width="1.1"/><circle cx="402.5" cy="374.8" r="1.3" fill="#fff" stroke="#22c88a" stroke-width="0.6"/><polyline points="608,394.5 528.5,480" fill="none" stroke="#3aa0e8" stroke-width="1.1"/><circle cx="608" cy="394.5" r="1.3" fill="#fff" stroke="#3aa0e8" stroke-width="0.6"/><text x="701.20" y="344.50" font-size="7" fill="#fff" stroke="#fff" stroke-width="0.0" letter-spacing="-0.40" text-anchor="middle" dominant-baseline="central" font-weight="bold" >机房温度检测</text><text x="701.20" y="355.40" font-size="6.2" fill="#a9b5c2" stroke="#a9b5c2" stroke-width="0.18" letter-spacing="0.20" text-anchor="middle" dominant-baseline="central" font-weight="normal" >单位:℃</text><g stroke="#6f7a70" stroke-width="0.8" fill="none" opacity="0.75" stroke-linecap="round"><line x1="755.6" y1="342.5" x2="755.6" y2="348.5"/><polyline points="752.3000000000001,345.3 755.6,348.5 758.9,345.3"/><polyline points="752.0,348.0 752.0,350.0 759.2,350.0 759.2,348.0"/></g><text x="823.80" y="344.50" font-size="7" fill="#fff" stroke="#fff" stroke-width="0.0" letter-spacing="-0.40" text-anchor="middle" dominant-baseline="central" font-weight="bold" >机房湿度检测</text><text x="823.80" y="355.40" font-size="6.2" fill="#a9b5c2" stroke="#a9b5c2" stroke-width="0.18" letter-spacing="0.20" text-anchor="middle" dominant-baseline="central" font-weight="normal" >单位:%</text><g stroke="#6f7a70" stroke-width="0.8" fill="none" opacity="0.75" stroke-linecap="round"><line x1="879" y1="342.5" x2="879" y2="348.5"/><polyline points="875.7,345.3 879,348.5 882.3,345.3"/><polyline points="875.4,348.0 875.4,350.0 882.6,350.0 882.6,348.0"/></g><line x1="671.15" y1="440.25" x2="664.78" y2="446.62" stroke="#1fd39a" stroke-width="1.2"/><line x1="669.43" y1="438.43" x2="666.37" y2="441.15" stroke="#1fd39a" stroke-width="0.9"/><line x1="667.82" y1="436.51" x2="664.60" y2="439.05" stroke="#1fd39a" stroke-width="0.9"/><line x1="666.33" y1="434.50" x2="662.97" y2="436.85" stroke="#1fd39a" stroke-width="0.9"/><line x1="664.96" y1="432.41" x2="661.47" y2="434.55" stroke="#1fd39a" stroke-width="0.9"/><line x1="663.72" y1="430.23" x2="660.10" y2="432.17" stroke="#1fd39a" stroke-width="0.9"/><line x1="662.60" y1="427.99" x2="658.88" y2="429.71" stroke="#1fd39a" stroke-width="0.9"/><line x1="661.62" y1="425.69" x2="657.81" y2="427.18" stroke="#1fd39a" stroke-width="0.9"/><line x1="660.78" y1="423.33" x2="652.22" y2="426.11" stroke="#1fd39a" stroke-width="1.2"/><line x1="660.08" y1="420.93" x2="656.11" y2="421.97" stroke="#1fd39a" stroke-width="0.9"/><line x1="659.52" y1="418.49" x2="655.50" y2="419.29" stroke="#1fd39a" stroke-width="0.9"/><line x1="659.10" y1="416.02" x2="655.04" y2="416.58" stroke="#1fd39a" stroke-width="0.9"/><line x1="658.83" y1="413.53" x2="654.74" y2="413.86" stroke="#1fd39a" stroke-width="0.9"/><line x1="658.71" y1="411.03" x2="654.61" y2="411.11" stroke="#1fd39a" stroke-width="0.9"/><line x1="658.73" y1="408.53" x2="654.64" y2="408.37" stroke="#1fd39a" stroke-width="0.9"/><line x1="658.90" y1="406.03" x2="654.82" y2="405.63" stroke="#1fd39a" stroke-width="0.9"/><line x1="659.22" y1="403.55" x2="650.33" y2="402.14" stroke="#1fd39a" stroke-width="1.2"/><line x1="659.69" y1="401.09" x2="655.68" y2="400.21" stroke="#1fd39a" stroke-width="0.9"/><line x1="660.30" y1="398.66" x2="656.35" y2="397.55" stroke="#1fd39a" stroke-width="0.9"/><line x1="661.05" y1="396.28" x2="657.17" y2="394.93" stroke="#1fd39a" stroke-width="0.9"/><line x1="661.94" y1="393.94" x2="658.15" y2="392.37" stroke="#1fd39a" stroke-width="0.9"/><line x1="662.96" y1="391.65" x2="659.27" y2="389.86" stroke="#1fd39a" stroke-width="0.9"/><line x1="664.12" y1="389.43" x2="660.54" y2="387.43" stroke="#1fd39a" stroke-width="0.9"/><line x1="665.41" y1="387.29" x2="661.95" y2="385.08" stroke="#1fd39a" stroke-width="0.9"/><line x1="666.82" y1="385.22" x2="659.54" y2="379.93" stroke="#1fd39a" stroke-width="1.2"/><line x1="668.35" y1="383.24" x2="665.18" y2="380.64" stroke="#1fd39a" stroke-width="0.9"/><line x1="669.99" y1="381.35" x2="666.98" y2="378.57" stroke="#1fd39a" stroke-width="0.9"/><line x1="671.74" y1="379.56" x2="668.90" y2="376.61" stroke="#1fd39a" stroke-width="0.9"/><line x1="673.60" y1="377.88" x2="670.94" y2="374.77" stroke="#1fd39a" stroke-width="0.9"/><line x1="675.55" y1="376.31" x2="673.07" y2="373.04" stroke="#1fd39a" stroke-width="0.9"/><line x1="677.59" y1="374.86" x2="675.31" y2="371.45" stroke="#1fd39a" stroke-width="0.9"/><line x1="679.71" y1="373.53" x2="677.64" y2="370.00" stroke="#1fd39a" stroke-width="0.9"/><line x1="681.91" y1="372.33" x2="677.82" y2="364.31" stroke="#1fd39a" stroke-width="1.2"/><line x1="684.17" y1="371.26" x2="682.53" y2="367.51" stroke="#1fd39a" stroke-width="0.9"/><line x1="686.49" y1="370.33" x2="685.07" y2="366.48" stroke="#1fd39a" stroke-width="0.9"/><line x1="688.86" y1="369.53" x2="687.67" y2="365.61" stroke="#1fd39a" stroke-width="0.9"/><line x1="691.28" y1="368.87" x2="690.32" y2="364.89" stroke="#1fd39a" stroke-width="0.9"/><line x1="693.73" y1="368.36" x2="693.01" y2="364.33" stroke="#1fd39a" stroke-width="0.9"/><line x1="696.20" y1="367.99" x2="695.72" y2="363.92" stroke="#1fd39a" stroke-width="0.9"/><line x1="698.70" y1="367.77" x2="698.46" y2="363.68" stroke="#1fd39a" stroke-width="0.9"/><line x1="701.20" y1="367.70" x2="701.20" y2="358.70" stroke="#1fd39a" stroke-width="1.2"/><line x1="703.70" y1="367.77" x2="703.94" y2="363.68" stroke="#1fd39a" stroke-width="0.9"/><line x1="706.20" y1="367.99" x2="706.68" y2="363.92" stroke="#1fd39a" stroke-width="0.9"/><line x1="708.67" y1="368.36" x2="709.39" y2="364.33" stroke="#1fd39a" stroke-width="0.9"/><line x1="711.12" y1="368.87" x2="712.08" y2="364.89" stroke="#1fd39a" stroke-width="0.9"/><line x1="713.54" y1="369.53" x2="714.73" y2="365.61" stroke="#1fd39a" stroke-width="0.9"/><line x1="715.91" y1="370.33" x2="717.33" y2="366.48" stroke="#1fd39a" stroke-width="0.9"/><line x1="718.23" y1="371.26" x2="719.87" y2="367.51" stroke="#1fd39a" stroke-width="0.9"/><line x1="720.49" y1="372.33" x2="724.58" y2="364.31" stroke="#1fd39a" stroke-width="1.2"/><line x1="722.69" y1="373.53" x2="724.76" y2="370.00" stroke="#1fd39a" stroke-width="0.9"/><line x1="724.81" y1="374.86" x2="727.09" y2="371.45" stroke="#1fd39a" stroke-width="0.9"/><line x1="726.85" y1="376.31" x2="729.33" y2="373.04" stroke="#1fd39a" stroke-width="0.9"/><line x1="728.80" y1="377.88" x2="731.46" y2="374.77" stroke="#1fd39a" stroke-width="0.9"/><line x1="730.66" y1="379.56" x2="733.50" y2="376.61" stroke="#1fd39a" stroke-width="0.9"/><line x1="732.41" y1="381.35" x2="735.42" y2="378.57" stroke="#1fd39a" stroke-width="0.9"/><line x1="734.05" y1="383.24" x2="737.22" y2="380.64" stroke="#1fd39a" stroke-width="0.9"/><line x1="735.58" y1="385.22" x2="742.86" y2="379.93" stroke="#1fd39a" stroke-width="1.2"/><line x1="736.99" y1="387.29" x2="740.45" y2="385.08" stroke="#1fd39a" stroke-width="0.9"/><line x1="738.28" y1="389.43" x2="741.86" y2="387.43" stroke="#1fd39a" stroke-width="0.9"/><line x1="739.44" y1="391.65" x2="743.13" y2="389.86" stroke="#1fd39a" stroke-width="0.9"/><line x1="740.46" y1="393.94" x2="744.25" y2="392.37" stroke="#1fd39a" stroke-width="0.9"/><line x1="741.35" y1="396.28" x2="745.23" y2="394.93" stroke="#1fd39a" stroke-width="0.9"/><line x1="742.10" y1="398.66" x2="746.05" y2="397.55" stroke="#1fd39a" stroke-width="0.9"/><line x1="742.71" y1="401.09" x2="746.72" y2="400.21" stroke="#1fd39a" stroke-width="0.9"/><line x1="743.18" y1="403.55" x2="752.07" y2="402.14" stroke="#1fd39a" stroke-width="1.2"/><line x1="743.50" y1="406.03" x2="747.58" y2="405.63" stroke="#1fd39a" stroke-width="0.9"/><line x1="743.67" y1="408.53" x2="747.76" y2="408.37" stroke="#1fd39a" stroke-width="0.9"/><line x1="743.69" y1="411.03" x2="747.79" y2="411.11" stroke="#1fd39a" stroke-width="0.9"/><line x1="743.57" y1="413.53" x2="747.66" y2="413.86" stroke="#1fd39a" stroke-width="0.9"/><line x1="743.30" y1="416.02" x2="747.36" y2="416.58" stroke="#1fd39a" stroke-width="0.9"/><line x1="742.88" y1="418.49" x2="746.90" y2="419.29" stroke="#1fd39a" stroke-width="0.9"/><line x1="742.32" y1="420.93" x2="746.29" y2="421.97" stroke="#1fd39a" stroke-width="0.9"/><line x1="741.62" y1="423.33" x2="750.18" y2="426.11" stroke="#1fd39a" stroke-width="1.2"/><line x1="740.78" y1="425.69" x2="744.59" y2="427.18" stroke="#1fd39a" stroke-width="0.9"/><line x1="739.80" y1="427.99" x2="743.52" y2="429.71" stroke="#1fd39a" stroke-width="0.9"/><line x1="738.68" y1="430.23" x2="742.30" y2="432.17" stroke="#1fd39a" stroke-width="0.9"/><line x1="737.44" y1="432.41" x2="740.93" y2="434.55" stroke="#1fd39a" stroke-width="0.9"/><line x1="736.07" y1="434.50" x2="739.43" y2="436.85" stroke="#1fd39a" stroke-width="0.9"/><line x1="734.58" y1="436.51" x2="737.80" y2="439.05" stroke="#1fd39a" stroke-width="0.9"/><line x1="732.97" y1="438.43" x2="736.03" y2="441.15" stroke="#1fd39a" stroke-width="0.9"/><line x1="731.25" y1="440.25" x2="737.62" y2="446.62" stroke="#1fd39a" stroke-width="1.2"/><text x="675.53" y="435.87" font-size="6.5" fill="#4a5fbf" stroke="#4a5fbf" stroke-width="0.18" letter-spacing="0.00" text-anchor="middle" dominant-baseline="central" font-weight="normal" >-30</text><text x="666.68" y="421.42" font-size="6.5" fill="#4a5fbf" stroke="#4a5fbf" stroke-width="0.18" letter-spacing="0.00" text-anchor="middle" dominant-baseline="central" font-weight="normal" >-20</text><text x="665.35" y="404.52" font-size="6.5" fill="#4a5fbf" stroke="#4a5fbf" stroke-width="0.18" letter-spacing="0.00" text-anchor="middle" dominant-baseline="central" font-weight="normal" >-10</text><text x="671.83" y="388.86" font-size="6.5" fill="#4a5fbf" stroke="#4a5fbf" stroke-width="0.18" letter-spacing="0.00" text-anchor="middle" dominant-baseline="central" font-weight="normal" >0</text><text x="684.72" y="377.86" font-size="6.5" fill="#4a5fbf" stroke="#4a5fbf" stroke-width="0.18" letter-spacing="0.00" text-anchor="middle" dominant-baseline="central" font-weight="normal" >10</text><text x="701.20" y="373.90" font-size="6.5" fill="#4a5fbf" stroke="#4a5fbf" stroke-width="0.18" letter-spacing="0.00" text-anchor="middle" dominant-baseline="central" font-weight="normal" >20</text><text x="717.68" y="377.86" font-size="6.5" fill="#4a5fbf" stroke="#4a5fbf" stroke-width="0.18" letter-spacing="0.00" text-anchor="middle" dominant-baseline="central" font-weight="normal" >30</text><text x="730.57" y="388.86" font-size="6.5" fill="#4a5fbf" stroke="#4a5fbf" stroke-width="0.18" letter-spacing="0.00" text-anchor="middle" dominant-baseline="central" font-weight="normal" >40</text><text x="737.05" y="404.52" font-size="6.5" fill="#4a5fbf" stroke="#4a5fbf" stroke-width="0.18" letter-spacing="0.00" text-anchor="middle" dominant-baseline="central" font-weight="normal" >50</text><text x="735.72" y="421.42" font-size="6.5" fill="#4a5fbf" stroke="#4a5fbf" stroke-width="0.18" letter-spacing="0.00" text-anchor="middle" dominant-baseline="central" font-weight="normal" >60</text><text x="726.87" y="435.87" font-size="6.5" fill="#4a5fbf" stroke="#4a5fbf" stroke-width="0.18" letter-spacing="0.00" text-anchor="middle" dominant-baseline="central" font-weight="normal" >70℃</text><path d="M685.43,425.97 A22.3,22.3 0 1 1 716.97,425.97" fill="none" stroke="#9e9e9e" stroke-width="3.6"/><path d="M685.43,425.97 A22.3,22.3 0 0 1 683.16,397.09" fill="none" stroke="#1fd39a" stroke-width="3.6"/><polygon points="686.28,400.13 699.97,412.02 704.52,412.44 702.43,408.38" fill="#1fd39a"/><text x="701.20" y="433.50" font-size="7" fill="#fff" stroke="#fff" stroke-width="0.0" letter-spacing="0.00" text-anchor="middle" dominant-baseline="central" font-weight="bold" >温度</text><path d="M793.67,441.43 A43.6,43.6 0 0 1 789.23,384.97" fill="none" stroke="#23d3b0" stroke-width="4.8"/><path d="M789.23,384.97 A43.6,43.6 0 0 1 859.77,384.97" fill="none" stroke="#2f9ef5" stroke-width="4.8"/><path d="M859.77,384.97 A43.6,43.6 0 0 1 855.33,441.43" fill="none" stroke="#ff6b4a" stroke-width="4.8"/><line x1="792.14" y1="437.37" x2="789.44" y2="439.60" stroke="#fff" stroke-width="0.8" opacity="0.85"/><line x1="789.76" y1="434.21" x2="786.87" y2="436.17" stroke="#fff" stroke-width="0.8" opacity="0.85"/><line x1="787.70" y1="430.83" x2="784.63" y2="432.52" stroke="#fff" stroke-width="0.8" opacity="0.85"/><line x1="785.95" y1="427.28" x2="782.74" y2="428.67" stroke="#fff" stroke-width="0.8" opacity="0.85"/><line x1="783.51" y1="419.76" x2="780.10" y2="420.53" stroke="#fff" stroke-width="0.8" opacity="0.85"/><line x1="782.83" y1="415.86" x2="779.36" y2="416.30" stroke="#fff" stroke-width="0.8" opacity="0.85"/><line x1="782.52" y1="411.92" x2="779.02" y2="412.03" stroke="#fff" stroke-width="0.8" opacity="0.85"/><line x1="782.58" y1="407.96" x2="779.09" y2="407.74" stroke="#fff" stroke-width="0.8" opacity="0.85"/><line x1="783.82" y1="400.16" x2="780.43" y2="399.28" stroke="#fff" stroke-width="0.8" opacity="0.85"/><line x1="784.98" y1="396.37" x2="781.69" y2="395.19" stroke="#fff" stroke-width="0.8" opacity="0.85"/><line x1="786.50" y1="392.72" x2="783.33" y2="391.23" stroke="#fff" stroke-width="0.8" opacity="0.85"/><line x1="788.35" y1="389.22" x2="785.34" y2="387.44" stroke="#fff" stroke-width="0.8" opacity="0.85"/><line x1="793.00" y1="382.82" x2="790.37" y2="380.51" stroke="#fff" stroke-width="0.8" opacity="0.85"/><line x1="795.75" y1="379.98" x2="793.35" y2="377.43" stroke="#fff" stroke-width="0.8" opacity="0.85"/><line x1="798.76" y1="377.41" x2="796.61" y2="374.65" stroke="#fff" stroke-width="0.8" opacity="0.85"/><line x1="802.00" y1="375.14" x2="800.12" y2="372.18" stroke="#fff" stroke-width="0.8" opacity="0.85"/><line x1="809.04" y1="371.55" x2="807.75" y2="368.30" stroke="#fff" stroke-width="0.8" opacity="0.85"/><line x1="812.78" y1="370.27" x2="811.81" y2="366.91" stroke="#fff" stroke-width="0.8" opacity="0.85"/><line x1="816.63" y1="369.34" x2="815.97" y2="365.91" stroke="#fff" stroke-width="0.8" opacity="0.85"/><line x1="820.55" y1="368.79" x2="820.22" y2="365.30" stroke="#fff" stroke-width="0.8" opacity="0.85"/><line x1="828.45" y1="368.79" x2="828.78" y2="365.30" stroke="#fff" stroke-width="0.8" opacity="0.85"/><line x1="832.37" y1="369.34" x2="833.03" y2="365.91" stroke="#fff" stroke-width="0.8" opacity="0.85"/><line x1="836.22" y1="370.27" x2="837.19" y2="366.91" stroke="#fff" stroke-width="0.8" opacity="0.85"/><line x1="839.96" y1="371.55" x2="841.25" y2="368.30" stroke="#fff" stroke-width="0.8" opacity="0.85"/><line x1="847.00" y1="375.14" x2="848.88" y2="372.18" stroke="#fff" stroke-width="0.8" opacity="0.85"/><line x1="850.24" y1="377.41" x2="852.39" y2="374.65" stroke="#fff" stroke-width="0.8" opacity="0.85"/><line x1="853.25" y1="379.98" x2="855.65" y2="377.43" stroke="#fff" stroke-width="0.8" opacity="0.85"/><line x1="856.00" y1="382.82" x2="858.63" y2="380.51" stroke="#fff" stroke-width="0.8" opacity="0.85"/><line x1="860.65" y1="389.22" x2="863.66" y2="387.44" stroke="#fff" stroke-width="0.8" opacity="0.85"/><line x1="862.50" y1="392.72" x2="865.67" y2="391.23" stroke="#fff" stroke-width="0.8" opacity="0.85"/><line x1="864.02" y1="396.37" x2="867.31" y2="395.19" stroke="#fff" stroke-width="0.8" opacity="0.85"/><line x1="865.18" y1="400.16" x2="868.57" y2="399.28" stroke="#fff" stroke-width="0.8" opacity="0.85"/><line x1="866.42" y1="407.96" x2="869.91" y2="407.74" stroke="#fff" stroke-width="0.8" opacity="0.85"/><line x1="866.48" y1="411.92" x2="869.98" y2="412.03" stroke="#fff" stroke-width="0.8" opacity="0.85"/><line x1="866.17" y1="415.86" x2="869.64" y2="416.30" stroke="#fff" stroke-width="0.8" opacity="0.85"/><line x1="865.49" y1="419.76" x2="868.90" y2="420.53" stroke="#fff" stroke-width="0.8" opacity="0.85"/><line x1="863.05" y1="427.28" x2="866.26" y2="428.67" stroke="#fff" stroke-width="0.8" opacity="0.85"/><line x1="861.30" y1="430.83" x2="864.37" y2="432.52" stroke="#fff" stroke-width="0.8" opacity="0.85"/><line x1="859.24" y1="434.21" x2="862.13" y2="436.17" stroke="#fff" stroke-width="0.8" opacity="0.85"/><line x1="856.86" y1="437.37" x2="859.56" y2="439.60" stroke="#fff" stroke-width="0.8" opacity="0.85"/><line x1="801.31" y1="433.79" x2="791.97" y2="443.13" stroke="#fff" stroke-width="0.9"/><text x="806.61" y="428.49" font-size="6.6" fill="#23d3b0" stroke="#23d3b0" stroke-width="0.18" letter-spacing="0.00" text-anchor="middle" dominant-baseline="central" font-weight="normal" >0</text><line x1="793.31" y1="420.74" x2="780.75" y2="424.81" stroke="#fff" stroke-width="0.9"/><text x="800.44" y="418.42" font-size="6.6" fill="#23d3b0" stroke="#23d3b0" stroke-width="0.18" letter-spacing="0.00" text-anchor="middle" dominant-baseline="central" font-weight="normal" >10</text><line x1="792.10" y1="405.47" x2="779.07" y2="403.40" stroke="#fff" stroke-width="0.9"/><text x="799.51" y="406.64" font-size="6.6" fill="#23d3b0" stroke="#23d3b0" stroke-width="0.18" letter-spacing="0.00" text-anchor="middle" dominant-baseline="central" font-weight="normal" >20</text><line x1="797.96" y1="391.32" x2="787.29" y2="383.56" stroke="#fff" stroke-width="0.9"/><text x="804.03" y="395.73" font-size="6.6" fill="#23d3b0" stroke="#23d3b0" stroke-width="0.18" letter-spacing="0.00" text-anchor="middle" dominant-baseline="central" font-weight="normal" >30</text><line x1="809.61" y1="381.37" x2="803.62" y2="369.61" stroke="#fff" stroke-width="0.9"/><text x="813.01" y="388.06" font-size="6.6" fill="#2f9ef5" stroke="#2f9ef5" stroke-width="0.18" letter-spacing="0.00" text-anchor="middle" dominant-baseline="central" font-weight="normal" >40</text><line x1="824.50" y1="377.80" x2="824.50" y2="364.60" stroke="#fff" stroke-width="0.9"/><text x="824.50" y="385.30" font-size="6.6" fill="#2f9ef5" stroke="#2f9ef5" stroke-width="0.18" letter-spacing="0.00" text-anchor="middle" dominant-baseline="central" font-weight="normal" >50</text><line x1="839.39" y1="381.37" x2="845.38" y2="369.61" stroke="#fff" stroke-width="0.9"/><text x="835.99" y="388.06" font-size="6.6" fill="#2f9ef5" stroke="#2f9ef5" stroke-width="0.18" letter-spacing="0.00" text-anchor="middle" dominant-baseline="central" font-weight="normal" >60</text><line x1="851.04" y1="391.32" x2="861.71" y2="383.56" stroke="#fff" stroke-width="0.9"/><text x="844.97" y="395.73" font-size="6.6" fill="#2f9ef5" stroke="#2f9ef5" stroke-width="0.18" letter-spacing="0.00" text-anchor="middle" dominant-baseline="central" font-weight="normal" >70</text><line x1="856.90" y1="405.47" x2="869.93" y2="403.40" stroke="#fff" stroke-width="0.9"/><text x="849.49" y="406.64" font-size="6.6" fill="#ff7a5a" stroke="#ff7a5a" stroke-width="0.18" letter-spacing="0.00" text-anchor="middle" dominant-baseline="central" font-weight="normal" >80</text><line x1="855.69" y1="420.74" x2="868.25" y2="424.81" stroke="#fff" stroke-width="0.9"/><text x="848.56" y="418.42" font-size="6.6" fill="#ff7a5a" stroke="#ff7a5a" stroke-width="0.18" letter-spacing="0.00" text-anchor="middle" dominant-baseline="central" font-weight="normal" >90</text><line x1="847.69" y1="433.79" x2="857.03" y2="443.13" stroke="#fff" stroke-width="0.9"/><text x="842.39" y="428.49" font-size="6.6" fill="#ff7a5a" stroke="#ff7a5a" stroke-width="0.18" letter-spacing="0.00" text-anchor="middle" dominant-baseline="central" font-weight="normal" >100</text><polygon points="793.04,438.43 825.10,411.27 823.90,409.93" fill="#23d3b0"/><text x="823.80" y="432.50" font-size="7" fill="#fff" stroke="#fff" stroke-width="0.0" letter-spacing="0.00" text-anchor="middle" dominant-baseline="central" font-weight="bold" >湿度</text></svg>
</body></html>
